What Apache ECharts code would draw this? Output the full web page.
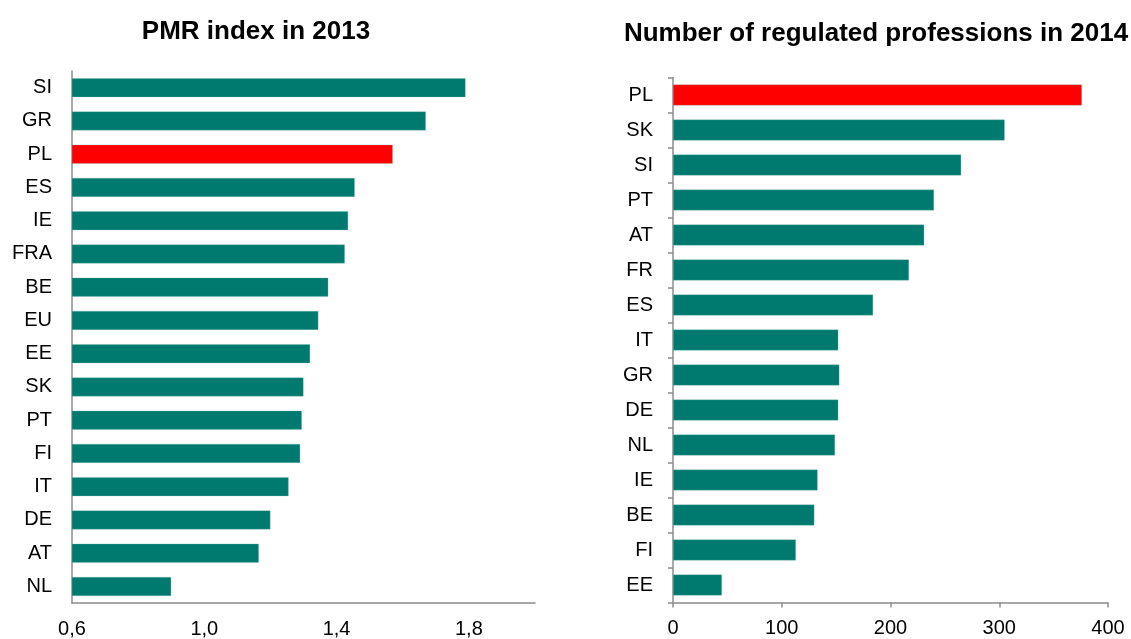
<!DOCTYPE html>
<html>
<head>
<meta charset="utf-8">
<script src="https://cdn.jsdelivr.net/npm/echarts@6/dist/echarts.min.js"></script>
<style>
  html, body { margin: 0; padding: 0; background: #ffffff; }
  #chart { width: 1131px; height: 639px; }
</style>
</head>
<body>
<div id="chart"></div>
<script>
// Product market regulation index, 2013 (sorted descending)
const pmrCountries = ['SI', 'GR', 'PL', 'ES', 'IE', 'FRA', 'BE', 'EU', 'EE', 'SK', 'PT', 'FI', 'IT', 'DE', 'AT', 'NL'];
const pmrValues = [1.79, 1.67, 1.57, 1.455, 1.435, 1.425, 1.375, 1.345, 1.32, 1.30, 1.295, 1.29, 1.255, 1.20, 1.165, 0.90];
const pmrTicks = { min: 0.6, max: 2.0, step: 0.4 };

// Number of regulated professions, 2014 (sorted descending)
const profCountries = ['PL', 'SK', 'SI', 'PT', 'AT', 'FR', 'ES', 'IT', 'GR', 'DE', 'NL', 'IE', 'BE', 'FI', 'EE'];
const profValues = [376, 305, 265, 240, 231, 217, 184, 152, 153, 152, 149, 133, 130, 113, 45];
const profTicks = { min: 0, max: 400, step: 100 };

const highlight = 'PL';
const TEAL = '#007a6e';
const RED = '#ff0000';
const AXIS_GREY = '#8c8c8c';
const FONT = 'Liberation Sans, Arial, sans-serif';

function barColor(params) {
  return params.name === highlight ? RED : TEAL;
}

const chart = echarts.init(document.getElementById('chart'), null, { renderer: 'canvas' });

chart.setOption({
  animation: false,
  backgroundColor: '#ffffff',
  textStyle: { fontFamily: FONT },
  title: [
    {
      text: 'PMR index in 2013',
      left: 251, top: 14, textAlign: 'center',
      textStyle: { fontFamily: FONT, fontSize: 26, fontWeight: 'bold', color: '#000' }
    },
    {
      text: 'Number of regulated professions in 2014',
      left: 871, top: 16, textAlign: 'center',
      textStyle: { fontFamily: FONT, fontSize: 26, fontWeight: 'bold', color: '#000' }
    }
  ],
  grid: [
    { left: 72, top: 71, width: 463, height: 533, containLabel: false },
    { left: 673, top: 77.5, width: 435, height: 525, containLabel: false }
  ],
  xAxis: [
    {
      gridIndex: 0, type: 'value',
      min: pmrTicks.min, max: pmrTicks.max, interval: pmrTicks.step,
      axisLine: { show: true, lineStyle: { color: AXIS_GREY, width: 1.5 } },
      axisTick: { show: false },
      splitLine: { show: false },
      axisLabel: {
        showMaxLabel: false, margin: 16,
        fontFamily: FONT, fontSize: 20, color: '#000',
        formatter: v => v.toFixed(1).replace('.', ',')
      }
    },
    {
      gridIndex: 1, type: 'value',
      min: profTicks.min, max: profTicks.max, interval: profTicks.step,
      axisLine: { show: true, lineStyle: { color: AXIS_GREY, width: 1.5 } },
      axisTick: { show: true, length: 5, lineStyle: { color: AXIS_GREY, width: 1.5 } },
      splitLine: { show: false },
      axisLabel: { margin: 16, fontFamily: FONT, fontSize: 20, color: '#000' }
    }
  ],
  yAxis: [
    {
      gridIndex: 0, type: 'category', inverse: true, data: pmrCountries,
      axisLine: { show: true, lineStyle: { color: AXIS_GREY, width: 1.5 } },
      axisTick: { show: false },
      axisLabel: { margin: 20, fontFamily: FONT, fontSize: 20, color: '#000' }
    },
    {
      gridIndex: 1, type: 'category', inverse: true, data: profCountries,
      axisLine: { show: true, lineStyle: { color: AXIS_GREY, width: 1.5 } },
      axisTick: { show: true, length: 5, lineStyle: { color: AXIS_GREY, width: 1.5 } },
      axisLabel: { margin: 20, fontFamily: FONT, fontSize: 20, color: '#000' }
    }
  ],
  series: [
    {
      type: 'bar', xAxisIndex: 0, yAxisIndex: 0,
      data: pmrValues, barWidth: 19,
      itemStyle: { color: barColor, borderColor: 'rgba(120,190,182,0.6)', borderWidth: 0.5 }
    },
    {
      type: 'bar', xAxisIndex: 1, yAxisIndex: 1,
      data: profValues, barWidth: 21,
      itemStyle: { color: barColor, borderColor: 'rgba(120,190,182,0.6)', borderWidth: 0.5 }
    }
  ]
});
</script>
</body>
</html>
